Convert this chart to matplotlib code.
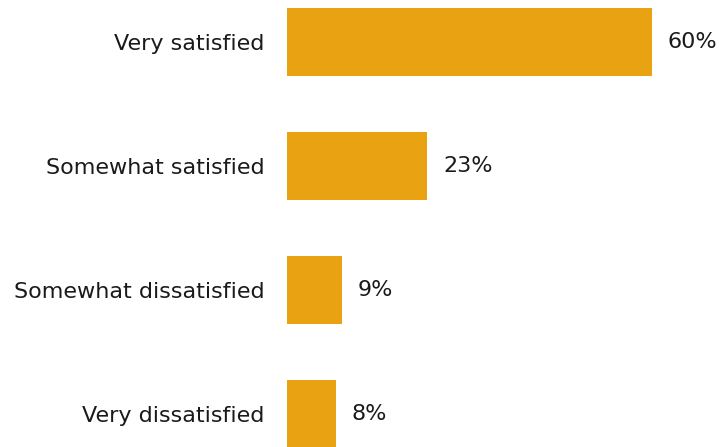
import matplotlib.pyplot as plt

plt.rcParams['font.family'] = ['DejaVu Sans']

categories = ['Very satisfied', 'Somewhat satisfied', 'Somewhat dissatisfied', 'Very dissatisfied']
values = [60, 23, 9, 8]
labels = ['60%', '23%', '9%', '8%']

bar_color = '#E9A211'
text_color = '#1a1a1a'

fig = plt.figure(figsize=(7.22, 4.47), dpi=100)
ax = fig.add_axes([287 / 722, 0, 1 - 287 / 722, 1])

pos = list(range(len(categories)))
ax.barh(pos, values, height=68 / 124, color=bar_color)

ax.set_xlim(0, 435 / (365 / 60))
ax.set_ylim(3 + 33 / 124, -42 / 124)

for p, v, lab in zip(pos, values, labels):
    ax.annotate(lab, (v, p), xytext=(11.5, 0), textcoords='offset points',
                va='center', ha='left', fontsize=16, color=text_color)

ax.set_yticks(pos)
ax.set_yticklabels(categories, fontsize=16, color=text_color)
ax.tick_params(axis='y', length=0, pad=16)
ax.set_xticks([])
for s in ax.spines.values():
    s.set_visible(False)

fig.savefig('out.png', dpi=100)
